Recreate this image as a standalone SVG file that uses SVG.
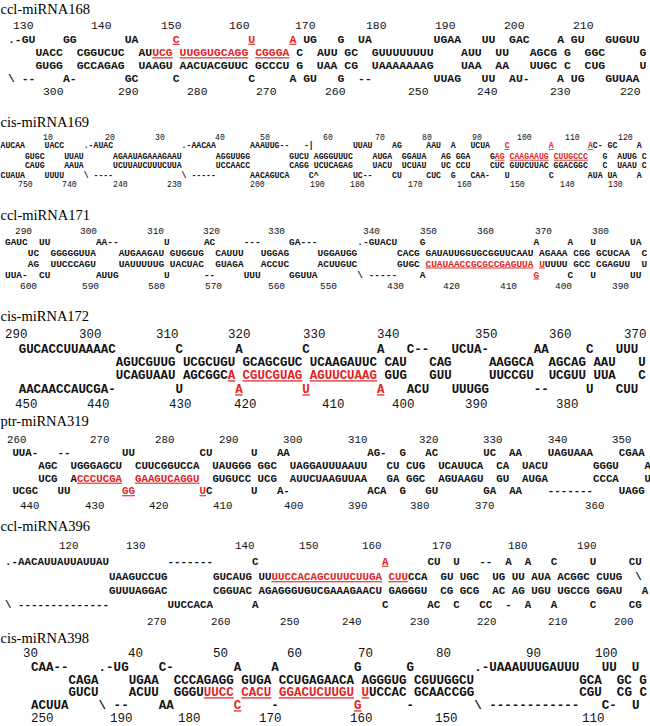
<svg xmlns="http://www.w3.org/2000/svg" width="650" height="726" viewBox="0 0 650 726">
<style>
.t{font-family:"Liberation Serif","Times New Roman",serif;font-size:14.5px;fill:#000}
.s{font-family:"Liberation Mono","Courier New",monospace;font-weight:bold;fill:#111;white-space:pre}
.n{font-family:"Liberation Mono","Courier New",monospace;fill:#111}
.r{fill:#e02424;text-decoration:underline}
</style>
<rect width="650" height="726" fill="#fff"/>
<g id="ccl-miRNA168" style="font-size:11.45px">
<text class="t" x="0.5" y="13.5">ccl-miRNA168</text>
<text class="n" y="29.3"><tspan x="13">130</tspan><tspan x="91">140</tspan><tspan x="161">150</tspan><tspan x="229">160</tspan><tspan x="295">170</tspan><tspan x="366">180</tspan><tspan x="435">190</tspan><tspan x="504">200</tspan><tspan x="573">210</tspan></text>
<text class="s" x="8" y="42.7" xml:space="preserve">.-GU    GG       UA     <tspan class="r">C</tspan>          <tspan class="r">U</tspan>     <tspan class="r">A</tspan> UG   G  UA         UGAA   UU  GAC    A GU   GUGUU</text>
<text class="s" x="8" y="56.3" xml:space="preserve">    UACC  CGGUCUC  AU<tspan class="r">UCG</tspan> <tspan class="r">UUGGUGCAGG</tspan> <tspan class="r">CGGGA</tspan> C  AUU GC  GUUUUUUUU    AUU  UU   AGCG G  GGC     G</text>
<text class="s" x="8" y="68.6" xml:space="preserve">    GUGG  GCCAGAG  UAAGU AACUACGUUC GCCCU G  UAA CG  UAAAAAAAG    UAA  AA   UUGC C  CUG     U</text>
<text class="s" x="8" y="81.7" xml:space="preserve">\ --    A-       GC     C          C     A GU   G  --         UUAG   UU  AU-    A UG   GUUAA</text>
<text class="n" y="95"><tspan x="43">300</tspan><tspan x="118">290</tspan><tspan x="187">280</tspan><tspan x="256">270</tspan><tspan x="325">260</tspan><tspan x="408">250</tspan><tspan x="477">240</tspan><tspan x="550">230</tspan><tspan x="620">220</tspan></text>
</g>
<g id="cis-miRNA169" style="font-size:8.17px">
<text class="t" x="0.5" y="126.5">cis-miRNA169</text>
<text class="n" y="140"><tspan x="43">10</tspan><tspan x="105">20</tspan><tspan x="155">30</tspan><tspan x="215">40</tspan><tspan x="260">50</tspan><tspan x="323">60</tspan><tspan x="375">70</tspan><tspan x="422">80</tspan><tspan x="472">90</tspan><tspan x="517">100</tspan><tspan x="565">110</tspan><tspan x="618">120</tspan></text>
<text class="s" x="0.5" y="148" xml:space="preserve">AUCAA    UACC    .-AUAC              .-AACAA       AAAUUG--   -|        UUAU    AG     AAU  A   UCUA   <tspan class="r">C</tspan>        <tspan class="r">A</tspan>       <tspan class="r">A</tspan>C- GC    A</text>
<text class="s" x="0.5" y="158.8" xml:space="preserve">     GUGC    UUAU      AGAAUAGAAAGAAU       AGGUUGG        GUCU AGGGUUUC    AUGA  GGAUA   AG GGA    G<tspan class="r">AG</tspan> <tspan class="r">CAAGAAUG</tspan> <tspan class="r">CUUGCCC</tspan>   G  AUUG C</text>
<text class="s" x="0.5" y="168.2" xml:space="preserve">     CAUG    AAUA      UCUUAUCUUUCUUA       UCCAACC        CAGG UCUCAGAG    UACU  UCUAU   UC CCU    CUC GUUCUUAC GGACGGC   C  UAAU C</text>
<text class="s" x="0.5" y="178.2" xml:space="preserve">CUAUA    UUUU    \ ----              \ -----       AACAGUCA    C^       UC--    CU     CUC  G   CAA-   U        C       AUA UA    A</text>
<text class="n" y="186.7"><tspan x="18">750</tspan><tspan x="62">740</tspan><tspan x="113">240</tspan><tspan x="167">230</tspan><tspan x="250">200</tspan><tspan x="310">190</tspan><tspan x="350">180</tspan><tspan x="408">170</tspan><tspan x="457">160</tspan><tspan x="510">150</tspan><tspan x="560">140</tspan><tspan x="608">130</tspan></text>
</g>
<g id="ccl-miRNA171" style="font-size:9.48px">
<text class="t" x="0.5" y="220">ccl-miRNA171</text>
<text class="n" y="233.5"><tspan x="15">290</tspan><tspan x="80">300</tspan><tspan x="147">310</tspan><tspan x="203">320</tspan><tspan x="268">330</tspan><tspan x="363">340</tspan><tspan x="420">350</tspan><tspan x="477">360</tspan><tspan x="535">370</tspan><tspan x="592">380</tspan></text>
<text class="s" x="5" y="244.5" xml:space="preserve">GAUC  UU        AA--        U      AC     ---     GA---       .-GUACU    G                   A     A   U      UA</text>
<text class="s" x="5" y="256" xml:space="preserve">    UC  GGGGGUUA    AUGAAGAU GUGGUG  CAUUU   UGGAG     UGGAUGG       CACG GAUAUUGGUGCGGUUCAAU AGAAA CGG GCUCAA  C</text>
<text class="s" x="5" y="266.5" xml:space="preserve">    AG  UUCCCAGU    UAUUUUUG UACUAC  GUAGA   ACCUC     ACUUGUC       GUGC <tspan class="r">CUAUAACCGCGCCGAGUUA</tspan> <tspan class="r">U</tspan>UUUU GCC CGAGUU  U</text>
<text class="s" x="5" y="277.5" xml:space="preserve">UUA-  CU        AUUG        U      --     UUU     GGUUA       \ -----    A                   <tspan class="r">G</tspan>     C   U      UU</text>
<text class="n" y="289"><tspan x="20">600</tspan><tspan x="82">590</tspan><tspan x="148">580</tspan><tspan x="205">570</tspan><tspan x="268">560</tspan><tspan x="320">550</tspan><tspan x="387">430</tspan><tspan x="443">420</tspan><tspan x="500">410</tspan><tspan x="555">400</tspan><tspan x="612">390</tspan></text>
</g>
<g id="cis-miRNA172" style="font-size:12.45px">
<text class="t" x="0.5" y="321">cis-miRNA172</text>
<text class="n" y="337.8"><tspan x="5">290</tspan><tspan x="79">300</tspan><tspan x="156">310</tspan><tspan x="228">320</tspan><tspan x="303">330</tspan><tspan x="377">340</tspan><tspan x="475">350</tspan><tspan x="549">360</tspan><tspan x="624">370</tspan></text>
<text class="s" x="18.7" y="353.3" xml:space="preserve">GUCACCUUAAAAC        C       A        C         A   C--   UCUA-      AA     C   UUU</text>
<text class="s" x="18.7" y="366.3" xml:space="preserve">             AGUCGUUG UCGCUGU GCAGCGUC UCAAGAUUC CAU   CAG     AAGGCA  AGCAG AAU   U</text>
<text class="s" x="18.7" y="379.3" xml:space="preserve">             UCAGUAAU AGCGGC<tspan class="r">A</tspan> <tspan class="r">CGUCGUAG</tspan> <tspan class="r">AGUUCUAAG</tspan> GUG   GUU     UUCCGU  UCGUU UUA   C</text>
<text class="s" x="18.7" y="393.3" xml:space="preserve">AACAACCAUCGA-        U       <tspan class="r">A</tspan>        <tspan class="r">U</tspan>         <tspan class="r">A</tspan>   ACU   UUUGG      --     U   CUU</text>
<text class="n" y="408.3"><tspan x="15">450</tspan><tspan x="87">440</tspan><tspan x="169">430</tspan><tspan x="234">420</tspan><tspan x="322">410</tspan><tspan x="392">400</tspan><tspan x="465">390</tspan><tspan x="556">380</tspan></text>
</g>
<g id="ptr-miRNA319" style="font-size:10.75px">
<text class="t" x="0.5" y="426">ptr-miRNA319</text>
<text class="n" y="442.7"><tspan x="7">260</tspan><tspan x="90">270</tspan><tspan x="155">280</tspan><tspan x="219">290</tspan><tspan x="283">300</tspan><tspan x="348">310</tspan><tspan x="419">320</tspan><tspan x="483">330</tspan><tspan x="548">340</tspan><tspan x="612">350</tspan></text>
<text class="s" x="12.4" y="456.2" xml:space="preserve">UUA-   --        UU          CU      U   AA            AG-  G   AC       UC  AA    UAGUAAA    CGAA</text>
<text class="s" x="12.4" y="469.2" xml:space="preserve">    AGC  UGGGAGCU  CUUCGGUCCA  UAUGGG GGC  UAGGAUUUAAUU   CU CUG  UCAUUCA  CA  UACU       GGGU    A</text>
<text class="s" x="12.4" y="481.7" xml:space="preserve">    UCG  A<tspan class="r">CCCUCGA</tspan>  <tspan class="r">GAAGUCAGGU</tspan>  GUGUCC UCG  AUUCUAAGUUAA   GA GGC  AGUAAGU  GU  AUGA       CCCA    U</text>
<text class="s" x="12.4" y="494.2" xml:space="preserve">UCGC   UU        <tspan class="r">GG</tspan>          <tspan class="r">U</tspan>C      U   A-            ACA  G   GU       GA  AA    -------    UAGG</text>
<text class="n" y="508.7"><tspan x="20">440</tspan><tspan x="85">430</tspan><tspan x="149">420</tspan><tspan x="213">410</tspan><tspan x="284">400</tspan><tspan x="348">390</tspan><tspan x="410">380</tspan><tspan x="475">370</tspan><tspan x="585">360</tspan></text>
</g>
<g id="ccl-miRNA396" style="font-size:10.83px">
<text class="t" x="0.5" y="531">ccl-miRNA396</text>
<text class="n" y="548.7"><tspan x="59">120</tspan><tspan x="126">130</tspan><tspan x="235">140</tspan><tspan x="299">150</tspan><tspan x="362">160</tspan><tspan x="432">170</tspan><tspan x="508">180</tspan><tspan x="577">190</tspan></text>
<text class="s" x="5" y="564.7" xml:space="preserve">.-AACAUUAUUAUUAU         -------      C                   <tspan class="r">A</tspan>      CU  U   --  A  A   C     U     CU</text>
<text class="s" x="5" y="580.2" xml:space="preserve">                UAAGUCCUG       GUCAUG UU<tspan class="r">UUCCACAGCUUUCUUGA</tspan> <tspan class="r">CUU</tspan>CCA  GU UGC  UG UU AUA ACGGC CUUG  \</text>
<text class="s" x="5" y="594.2" xml:space="preserve">                GUUUAGGAC       CGGUAC AGAGGGUGUCGAAAGAACU GAGGGU  CG GCG  AC AG UGU UGCCG GGAU   A</text>
<text class="s" x="5" y="608.2" xml:space="preserve">\ --------------         UUCCACA      A                   C      AC  C   CC  -  A   A     C     CG</text>
<text class="n" y="624.7"><tspan x="147">270</tspan><tspan x="211">260</tspan><tspan x="280">250</tspan><tspan x="342">240</tspan><tspan x="410">230</tspan><tspan x="477">220</tspan><tspan x="548">210</tspan><tspan x="614">200</tspan></text>
</g>
<g id="cis-miRNA398" style="font-size:12.53px">
<text class="t" x="0.5" y="643">cis-miRNA398</text>
<text class="n" y="657.3"><tspan x="23">30</tspan><tspan x="128">40</tspan><tspan x="213">50</tspan><tspan x="287">60</tspan><tspan x="358">70</tspan><tspan x="436">80</tspan><tspan x="526">90</tspan><tspan x="595">100</tspan></text>
<text class="s" x="31" y="670.8" xml:space="preserve">CAA--    .-UG    C-        A    A          G      G        .-UAAAUUUGAUUU   UU  U</text>
<text class="s" x="31" y="683.8" xml:space="preserve">     CAGA    UGAA  CCCAGAGG GUGA CCUGAGAACA AGGGUG CGUUGGCU              GCA  GC G</text>
<text class="s" x="31" y="696.3" xml:space="preserve">     GUCU    ACUU  GGGU<tspan class="r">UUCC</tspan> <tspan class="r">CACU</tspan> <tspan class="r">GGACUCUUGU</tspan> <tspan class="r">U</tspan>UCCAC GCAACCGG              CGU  CG C</text>
<text class="s" x="31" y="709.3" xml:space="preserve">ACUUA    \ --    AA        <tspan class="r">C</tspan>    -          <tspan class="r">G</tspan>      -        \ ------------   C-  U</text>
<text class="n" y="722.3"><tspan x="31">250</tspan><tspan x="110">190</tspan><tspan x="178">180</tspan><tspan x="259">170</tspan><tspan x="350">160</tspan><tspan x="435">150</tspan><tspan x="582">110</tspan></text>
</g>
</svg>
